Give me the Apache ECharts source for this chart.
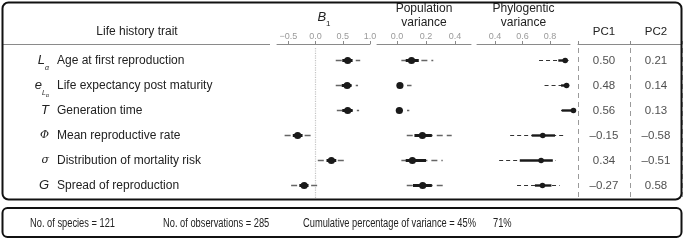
<!DOCTYPE html>
<html><head><meta charset="utf-8">
<script src="https://cdn.jsdelivr.net/npm/echarts@6/dist/echarts.min.js"></script>
<style>html,body{margin:0;padding:0;background:#fff}#c{width:685px;height:240px}</style>
</head><body><div id="c"></div>
<script>
// ---- data ----
const traits = ['Age at first reproduction', 'Life expectancy post maturity', 'Generation time',
  'Mean reproductive rate', 'Distribution of mortality risk', 'Spread of reproduction'];
const traitSymbols = ['{i|L}{s|\u03b1}', '{i|e}{s|L}{ss|\u03b1}', '{i|T}', '{g|\u03a6}', '{g|\u03c3}', '{i|G}'];

const b1Lo   = [0.37, 0.37, 0.39, -0.57, 0.04, -0.45];
const b1InLo = [0.49, 0.48, 0.49, -0.42, 0.20, -0.30];
const b1Mid  = [0.59, 0.58, 0.59, -0.33, 0.29, -0.21];
const b1InHi = [0.68, 0.66, 0.68, -0.24, 0.38, -0.13];
const b1Hi   = [0.82, 0.78, 0.80, -0.09, 0.52, 0.03];

const popLo   = [0.03, 0.00, 0.00, 0.067, 0.03, 0.067];
const popInLo = [0.06, 0.005, 0.005, 0.12, 0.06, 0.11];
const popMid  = [0.10, 0.02, 0.016, 0.175, 0.106, 0.177];
const popInHi = [0.15, 0.04, 0.03, 0.24, 0.20, 0.24];
const popHi   = [0.25, 0.10, 0.085, 0.377, 0.315, 0.315];

const phyLo   = [0.72, 0.76, 0.88, 0.51, 0.43, 0.56];
const phyInLo = [0.86, 0.88, 0.885, 0.667, 0.58, 0.69];
const phyMid  = [0.91, 0.92, 0.97, 0.747, 0.735, 0.745];
const phyInHi = [0.925, 0.93, 0.975, 0.836, 0.82, 0.81];
const phyHi   = [0.935, 0.94, 0.98, 0.90, 0.84, 0.87];

const pcNames = ['PC1', 'PC2'];
const pc1 = [0.50, 0.48, 0.56, -0.15, 0.34, -0.27];
const pc2 = [0.21, 0.14, 0.13, -0.58, -0.51, 0.58];

const b1Ticks = [-0.5, 0, 0.5, 1.0];
const popTicks = [0, 0.2, 0.4];
const phyTicks = [0.4, 0.6, 0.8];

const nSpecies = 121, nObs = 285;
const cumVar = [45, 71];

// ---- chart ----
const FONT = '"Liberation Sans", Arial, sans-serif';
const chart = echarts.init(document.getElementById('c'), null, {renderer: 'canvas'});

function fmtTick(v) { return (v < 0 ? '\u2212' : '') + Math.abs(v).toFixed(1); }
function fmtPC(v) { return (v < 0 ? '\u2013' : '') + Math.abs(v).toFixed(2); }

const TOP = 48, H = 150;
const grids = [
  {left: 277, width: 93, top: TOP, height: H},
  {left: 377, width: 94, top: TOP, height: H},
  {left: 477, width: 93, top: TOP, height: H},
  {left: 578, width: 104, top: TOP, height: H}
].map(g => Object.assign({containLabel: false, outerBoundsMode: 'none'}, g));

function valAxis(gi, min, max, ticks) {
  return {
    type: 'value', gridIndex: gi, position: 'top', min: min, max: max, offset: 4,
    axisLine: {show: true, onZero: false, lineStyle: {color: '#8a8a8a', width: 1}},
    axisTick: {show: true, length: 3, customValues: ticks, lineStyle: {color: '#8a8a8a'}},
    axisLabel: {show: true, customValues: ticks, fontSize: 9, color: '#9a9a9a', margin: 3,
      fontFamily: FONT, formatter: fmtTick},
    splitLine: {show: false}
  };
}

function catY(gi, extra) {
  return Object.assign({type: 'category', gridIndex: gi, data: traits, inverse: true,
    axisLine: {show: false}, axisTick: {show: false}, axisLabel: {show: false}, splitLine: {show: false}}, extra || {});
}

function makeData(lo, inLo, mid, inHi, hi) {
  return traits.map((t, i) => [i, lo[i], inLo[i], mid[i], inHi[i], hi[i]]);
}

function intervalSeries(gi, data, dot, dash) {
  return {
    type: 'custom', xAxisIndex: gi, yAxisIndex: gi === 0 ? 0 : gi + 1, clip: false, z: 5,
    encode: {x: [1, 2, 3, 4, 5], y: 0},
    data: data,
    renderItem: function (params, api) {
      const r = api.value(0);
      const pLo = api.coord([api.value(1), r]);
      const pInLo = api.coord([api.value(2), r]);
      const pMid = api.coord([api.value(3), r]);
      const pInHi = api.coord([api.value(4), r]);
      const pHi = api.coord([api.value(5), r]);
      const y = pMid[1];
      return {
        type: 'group', children: [
          {type: 'line', shape: {x1: pLo[0], y1: y, x2: pHi[0], y2: y},
            style: {stroke: dash.color, lineWidth: dash.width, lineDash: dash.dash}},
          {type: 'line', shape: {x1: pInLo[0], y1: y, x2: pInHi[0], y2: y},
            style: {stroke: '#1a1a1a', lineWidth: dot.thick}},
          {type: 'circle', shape: {cx: pMid[0], cy: y, r: dot.r}, style: {fill: '#1a1a1a'}}
        ]
      };
    }
  };
}

const BOTTOM_FONT = '12px ' + FONT;
const SX = 0.775;

const option = {
  animation: false,
  backgroundColor: '#fff',
  textStyle: {fontFamily: FONT},
  grid: grids,
  xAxis: [
    valAxis(0, -0.71, 1.0, b1Ticks),
    valAxis(1, -0.138, 0.51, popTicks),
    valAxis(2, 0.269, 0.945, phyTicks),
    {
      type: 'category', gridIndex: 3, position: 'top', offset: 4, data: pcNames,
      axisLine: {show: true, lineStyle: {color: '#8a8a8a', width: 1}},
      axisTick: {show: true, length: 3, alignWithLabel: false, lineStyle: {color: '#8a8a8a'}},
      axisLabel: {show: true, fontSize: 11.5, color: '#222', margin: 6, fontFamily: FONT},
      splitLine: {show: true, lineStyle: {color: '#9a9a9a', type: [5, 4], width: 1}}
    }
  ],
  yAxis: [
    catY(0, {axisLabel: {show: true, align: 'left', margin: 220, fontSize: 12, color: '#222', fontFamily: FONT}}),
    {
      type: 'category', gridIndex: 0, position: 'left', inverse: true, data: traitSymbols,
      axisLine: {show: false}, axisTick: {show: false}, splitLine: {show: false},
      axisLabel: {show: true, align: 'right', margin: 228, color: '#222',
        formatter: v => v,
        rich: {
          i: {fontSize: 13, fontStyle: 'italic', fontFamily: FONT, color: '#222', lineHeight: 16, verticalAlign: 'middle'},
          s: {fontSize: 7, fontStyle: 'italic', fontFamily: FONT, color: '#222', lineHeight: 16, verticalAlign: 'bottom', padding: [0, 0, -3, 0]},
          ss: {fontSize: 5.5, fontFamily: FONT, color: '#222', lineHeight: 16, verticalAlign: 'bottom', padding: [0, 0, -5, 0]},
          g: {fontSize: 11, fontStyle: 'italic', fontFamily: '"DejaVu Serif", serif', color: '#222', lineHeight: 16, verticalAlign: 'middle'}
        }}
    },
    catY(1), catY(2), catY(3)
  ],
  series: [
    {
      type: 'line', xAxisIndex: 0, yAxisIndex: 0, data: [], z: 1, silent: true,
      markLine: {silent: true, symbol: ['none', 'none'], label: {show: false},
        lineStyle: {type: 'dotted', color: '#c4c4c4', width: 1.2},
        data: [{xAxis: 0}]}
    },
    intervalSeries(0, makeData(b1Lo, b1InLo, b1Mid, b1InHi, b1Hi), {r: 3.6, thick: 3}, {color: '#666', width: 1.6, dash: [6, 4]}),
    intervalSeries(1, makeData(popLo, popInLo, popMid, popInHi, popHi), {r: 3.6, thick: 3}, {color: '#666', width: 1.6, dash: [6, 4]}),
    intervalSeries(2, makeData(phyLo, phyInLo, phyMid, phyInHi, phyHi), {r: 2.8, thick: 2.4}, {color: '#333', width: 1, dash: [4, 3]}),
    {
      type: 'scatter', xAxisIndex: 3, yAxisIndex: 4, symbolSize: 1,
      itemStyle: {color: 'rgba(0,0,0,0)'},
      label: {show: true, position: 'inside', fontSize: 11.5, color: '#222', fontFamily: FONT,
        formatter: p => fmtPC(p.value[2])},
      data: traits.map((t, i) => [0, i, pc1[i]]).concat(traits.map((t, i) => [1, i, pc2[i]]))
    }
  ],
  graphic: [
    {type: 'line', shape: {x1: 3, y1: 44.5, x2: 270, y2: 44.5}, style: {stroke: '#8a8a8a', lineWidth: 1}, z: 10},
    {type: 'text', x: 137, y: 32, style: {text: 'Life history trait', font: '12px ' + FONT, fill: '#222', align: 'center', verticalAlign: 'middle'}, z: 10},
    {type: 'text', x: 324, y: 17, style: {text: '{b|B}{s|1}', align: 'center', verticalAlign: 'middle',
      rich: {b: {fontSize: 13, fontStyle: 'italic', fontFamily: FONT, fill: '#222', lineHeight: 16, verticalAlign: 'middle'},
             s: {fontSize: 8, fontFamily: FONT, fill: '#222', lineHeight: 16, verticalAlign: 'bottom', padding: [0, 0, -3, 0]}}}, z: 10},
    {type: 'text', x: 424, y: 16, style: {text: 'Population\nvariance', font: '12px ' + FONT, lineHeight: 14, fill: '#222', align: 'center', verticalAlign: 'middle'}, z: 10},
    {type: 'text', x: 523.5, y: 16, style: {text: 'Phylogentic\nvariance', font: '12px ' + FONT, lineHeight: 14, fill: '#222', align: 'center', verticalAlign: 'middle'}, z: 10},
    {type: 'rect', shape: {x: 2.5, y: 2.5, width: 679, height: 197, r: 6}, style: {fill: 'none', stroke: '#111', lineWidth: 2}, z: 20},
    {type: 'rect', shape: {x: 2.5, y: 208, width: 679, height: 29, r: 5}, style: {fill: 'none', stroke: '#111', lineWidth: 2}, z: 20},
    {type: 'text', x: 30, y: 223.5, scaleX: SX, style: {text: 'No. of species = ' + nSpecies, font: BOTTOM_FONT, fill: '#222', verticalAlign: 'middle'}, z: 10},
    {type: 'text', x: 163, y: 223.5, scaleX: SX, style: {text: 'No. of observations = ' + nObs, font: BOTTOM_FONT, fill: '#222', verticalAlign: 'middle'}, z: 10},
    {type: 'text', x: 303, y: 223.5, scaleX: SX, style: {text: 'Cumulative percentage of variance = ' + cumVar[0] + '%', font: BOTTOM_FONT, fill: '#222', verticalAlign: 'middle'}, z: 10},
    {type: 'text', x: 493, y: 223.5, scaleX: SX, style: {text: cumVar[1] + '%', font: BOTTOM_FONT, fill: '#222', verticalAlign: 'middle'}, z: 10}
  ]
};
chart.setOption(option);
</script></body></html>
